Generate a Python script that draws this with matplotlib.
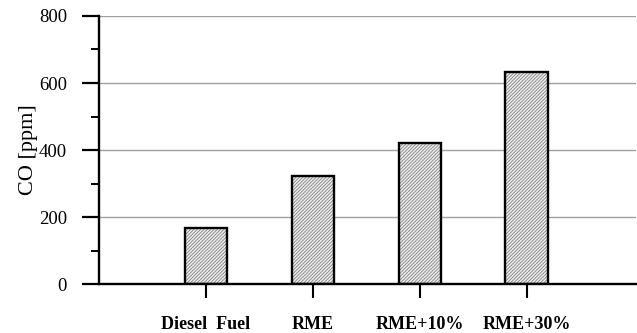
import matplotlib
matplotlib.use("Agg")
import matplotlib.pyplot as plt
from matplotlib.ticker import MultipleLocator

categories = ["Diesel  Fuel", "RME", "RME+10%", "RME+30%"]
co_ppm = [168, 323, 420, 633]

plt.rcParams['font.family'] = ['Liberation Serif', 'DejaVu Serif']
plt.rcParams['hatch.linewidth'] = 0.6

fig = plt.figure(figsize=(6.37, 3.33), dpi=100)
ax = fig.add_axes([0.1554, 0.147, 0.843, 0.805])

x = list(range(1, len(categories) + 1))
ax.set_axisbelow(True)
ax.yaxis.grid(True, which='major', color='#a0a0a0', linewidth=1.0)
ax.bar(x, co_ppm, width=0.4, color='#eeeeee', hatch='//////////',
       edgecolor='#808080', linewidth=0, zorder=2)
ax.bar(x, co_ppm, width=0.4, fill=False, edgecolor='black', linewidth=1.7, zorder=3)

ax.set_xlim(0, 5.02)
ax.set_ylim(0, 800)
ax.yaxis.set_major_locator(MultipleLocator(200))
ax.yaxis.set_minor_locator(MultipleLocator(100))
ax.set_xticks(x)
ax.set_xticklabels(categories, fontsize=13, fontweight='bold')
ax.tick_params(axis='x', direction='out', length=10, width=1.5, pad=13)
ax.tick_params(axis='y', which='major', direction='out', length=12, width=1.6,
               labelsize=13.5, pad=11)
ax.tick_params(axis='y', which='minor', direction='out', length=6, width=1.4)
for s in ['top', 'right']:
    ax.spines[s].set_visible(False)
for s in ['left', 'bottom']:
    ax.spines[s].set_linewidth(1.7)
ax.set_ylabel("CO [ppm]", fontsize=16)
ax.yaxis.set_label_coords(-0.1136, 0.5)

fig.savefig("out.png", dpi=100)
